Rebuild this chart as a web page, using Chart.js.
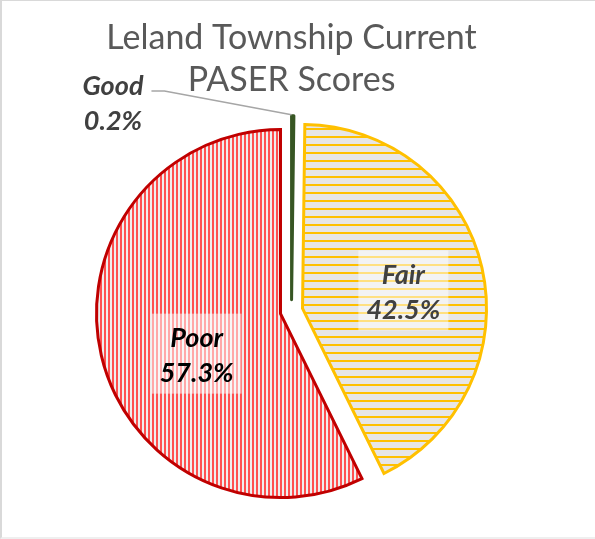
<!DOCTYPE html>
<html>
<head>
<meta charset="utf-8">
<script src="https://cdn.jsdelivr.net/npm/chart.js@4.4.0/dist/chart.umd.min.js"></script>
<style>
  body { margin: 0; background: #fff; }
  #wrap { position: relative; width: 595px; height: 539px; }
  #frame {
    position: absolute; left: 0; top: 0; width: 595px; height: 539px; box-sizing: border-box;
    border-left: 2px solid #d9d9d9; border-top: 1px solid #d9d9d9; border-bottom: 2px solid #efefef;
    pointer-events: none;
  }
</style>
</head>
<body>
<div id="wrap">
  <canvas id="paserChart" width="595" height="539"></canvas>
  <div id="frame"></div>
</div>
<script>
const titleLines = ['Leland Township Current', 'PASER Scores'];
const categories = ['Good', 'Fair', 'Poor'];
const shares = [0.2, 42.5, 57.3];
const shareLabels = ['0.2%', '42.5%', '57.3%'];

// striped fills like the excel pattern fills
function stripes(size, bg, fg, horizontal) {
    const c = document.createElement('canvas');
    c.width = size;
    c.height = size;
    const g = c.getContext('2d');
    g.fillStyle = bg;
    g.fillRect(0, 0, size, size);
    g.fillStyle = fg;
    if (horizontal) g.fillRect(0, 0, size, 2);
    else g.fillRect(0, 0, 2, size);
    return g.createPattern(c, 'repeat');
}

const fairFill = stripes(8, '#e7e6e6', '#ffc000', true);
const poorFill = stripes(4, '#eeeeee', '#ff5050', false);

// pull every slice out from the centre (offset option also grows the radius, so do it by hand)
const explode = {
    id: 'explode',
    afterDatasetUpdate(chart, args, opts) {
        args.meta.data.forEach(arc => {
            const mid = (arc.startAngle + arc.endAngle) / 2;
            arc.x += Math.cos(mid) * opts.distance;
            arc.y += Math.sin(mid) * opts.distance;
        });
    }
};

const titleText = {
    id: 'titleText',
    afterDraw(chart, args, opts) {
        const ctx = chart.ctx;
        const cx = (chart.chartArea.left + chart.chartArea.right) / 2;
        ctx.save();
        ctx.font = opts.font;
        ctx.fillStyle = opts.color;
        ctx.textAlign = 'center';
        ctx.textBaseline = 'alphabetic';
        titleLines.forEach((t, i) => ctx.fillText(t, cx, opts.top + i * opts.lineHeight));
        ctx.restore();
    }
};

const sliceLabels = {
    id: 'sliceLabels',
    afterDatasetsDraw(chart, args, opts) {
        const ctx = chart.ctx;
        const arcs = chart.getDatasetMeta(0).data;
        ctx.save();
        ctx.font = opts.font;
        ctx.textAlign = 'center';
        ctx.textBaseline = 'middle';
        arcs.forEach((arc, i) => {
            const place = opts.place[i];
            const lines = [categories[i], shareLabels[i]];
            let x, y;
            if (place.outside) {
                const tipX = arc.x;
                const tipY = arc.y - arc.outerRadius - 1;
                x = tipX + place.dx;
                y = tipY + place.dy;
                const w = Math.max(...lines.map(l => ctx.measureText(l).width));
                ctx.strokeStyle = '#a6a6a6';
                ctx.lineWidth = 1.5;
                ctx.beginPath();
                ctx.moveTo(x + w / 2 + 8, y - 13);
                ctx.lineTo(x + w / 2 + 21, y - 13);
                ctx.lineTo(tipX, tipY);
                ctx.stroke();
            } else {
                const a = (arc.startAngle + arc.endAngle) / 2 + place.turn * Math.PI / 180;
                x = arc.x + Math.cos(a) * arc.outerRadius * place.r;
                y = arc.y + Math.sin(a) * arc.outerRadius * place.r;
                const w = Math.max(...lines.map(l => ctx.measureText(l).width)) + 16;
                ctx.fillStyle = 'rgba(255,255,255,0.5)';
                ctx.fillRect(x - w / 2, y - 42, w, 80);
            }
            ctx.fillStyle = opts.colors[i];
            ctx.fillText(lines[0], x, y - 17.5);
            ctx.fillText(lines[1], x, y + 17.5);
        });
        ctx.restore();
    }
};

new Chart(document.getElementById('paserChart'), {
    type: 'pie',
    data: {
        labels: categories,
        datasets: [{
            data: shares,
            backgroundColor: ['#375623', fairFill, poorFill],
            borderColor: ['#375623', '#ffc000', '#c00000'],
            borderWidth: 3,
            borderJoinStyle: ['round', 'miter', 'miter'],
            radius: 184
        }]
    },
    options: {
        responsive: false,
        animation: false,
        events: [],
        layout: {padding: {left: 0, right: 12, top: 83, bottom: 0}},
        plugins: {
            legend: {display: false},
            tooltip: {enabled: false},
            title: {display: false},
            explode: {distance: 11.3},
            titleText: {font: '34px Lato', color: '#595959', top: 49, lineHeight: 42},
            sliceLabels: {
                font: 'italic bold 27px Lato',
                colors: ['#404040', '#404040', '#000000'],
                place: [
                    {outside: true, dx: -178.6, dy: -10.7},
                    {r: 0.555, turn: 3.7},
                    {r: 0.51, turn: -13.5}
                ]
            }
        }
    },
    plugins: [explode, titleText, sliceLabels]
});
</script>
</body>
</html>
